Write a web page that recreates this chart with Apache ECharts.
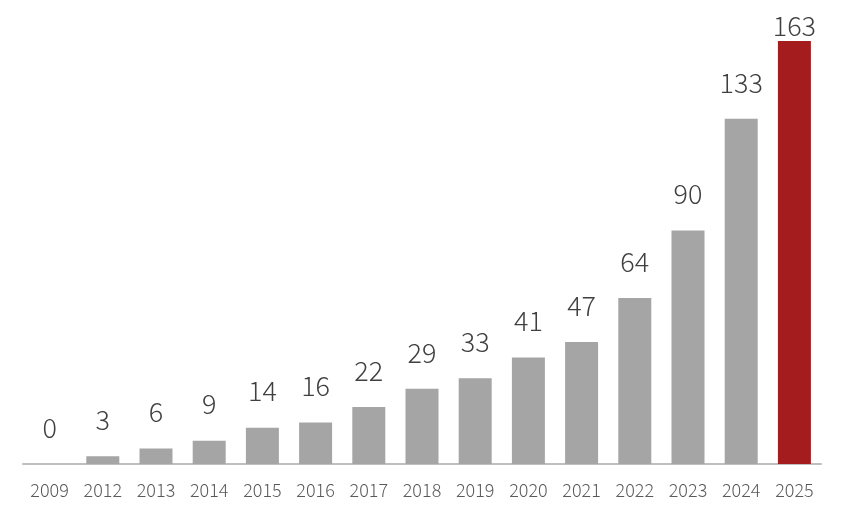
<!DOCTYPE html>
<html>
<head>
<meta charset="utf-8">
<script src="https://cdn.jsdelivr.net/npm/echarts@6/dist/echarts.min.js"></script>
<style>
html, body { margin: 0; padding: 0; background: #fff; }
#chart { width: 844px; height: 521px; }
</style>
</head>
<body>
<div id="chart"></div>
<script>
var years = ['2009', '2012', '2013', '2014', '2015', '2016', '2017', '2018', '2019', '2020', '2021', '2022', '2023', '2024', '2025'];
var counts = [0, 3, 6, 9, 14, 16, 22, 29, 33, 41, 47, 64, 90, 133, 163];

var grayBar = '#A5A5A5';
var redBar = '#A51C1F';

var byId = function(id) {
	return document.getElementById(id);
};

// 最后一根柱子用红色, 标签挤在顶部
var makeData = function() {
	var arr = [];
	for (var i = 0; i < counts.length; i++) {
		var item = { value: counts[i] };
		if (i == counts.length - 1) {
			item.itemStyle = { color: redBar };
			item.label = { distance: 2 };
		}
		arr.push(item);
	}
	return arr;
};

var chart = echarts.init(byId('chart'));
chart.setOption({
	animation: false,
	grid: {
		left: 23,
		right: 23,
		top: 41,
		bottom: 57
	},
	xAxis: [{
		type: 'category',
		data: years,
		axisLine: { lineStyle: { color: '#BFBFBF', width: 2 } },
		axisTick: { show: false },
		axisLabel: {
			color: '#595959',
			fontSize: 18,
			fontWeight: 300,
			fontFamily: 'Noto Sans CJK JP',
			margin: 17
		}
	}],
	yAxis: [{
		type: 'value',
		min: 0,
		max: 163,
		show: false,
		splitLine: { show: false }
	}],
	series: [{
		type: 'bar',
		data: makeData(),
		barWidth: 33,
		itemStyle: { color: grayBar },
		label: {
			show: true,
			position: 'top',
			distance: 23,
			color: '#404040',
			fontSize: 27,
			fontWeight: 300,
			fontFamily: 'Noto Sans CJK JP'
		}
	}]
});
</script>
</body>
</html>
